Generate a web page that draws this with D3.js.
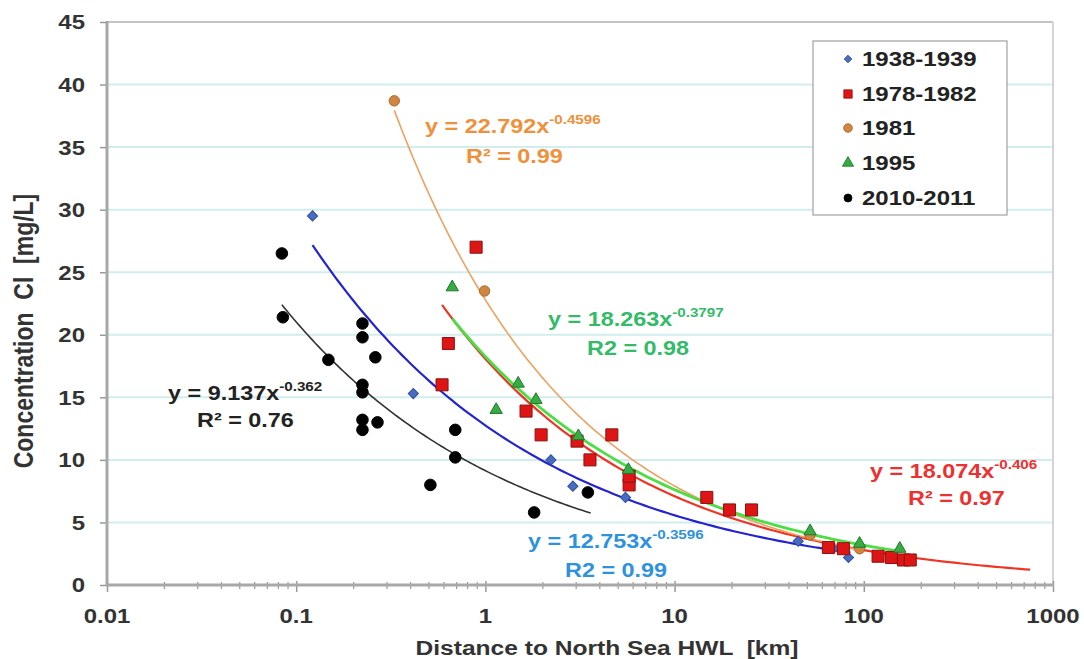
<!DOCTYPE html>
<html><head><meta charset="utf-8">
<script src="https://cdn.jsdelivr.net/npm/d3@7"></script>
<style>
html,body{margin:0;padding:0;background:#fff;}
text{font-family:"Liberation Sans",Arial,sans-serif;font-weight:bold;white-space:pre;}
</style></head>
<body>
<svg id="chart" width="1084" height="659"></svg>
<script>
// ---------- data ----------
const seriesNames = ["1938-1939","1978-1982","1981","1995","2010-2011"];
const xTicks = [0.01, 0.1, 1, 10, 100, 1000];
const xTickLabels = ["0.01","0.1","1","10","100","1000"];
const yTicks = [0,5,10,15,20,25,30,35,40,45];

const x1938 = [0.122, 0.416, 2.22, 2.9, 5.5, 45, 69, 83];
const y1938 = [29.5, 15.3, 10.0, 7.9, 7.0, 3.5, 2.9, 2.2];

const x1978 = [0.59, 0.637, 0.893, 1.64, 1.97, 3.05, 3.57, 4.66, 5.75, 5.75, 14.8, 19.5, 25.5, 65, 78, 119, 140, 162, 176];
const y1978 = [16.0, 19.3, 27.0, 13.9, 12.0, 11.5, 10.0, 12.0, 8.0, 8.7, 7.0, 6.0, 6.0, 3.0, 2.9, 2.3, 2.2, 2.0, 2.0];

const x1981 = [0.33, 0.99, 52, 95];
const y1981 = [38.7, 23.5, 4.0, 2.9];

const x1995 = [0.668, 1.14, 1.49, 1.85, 3.1, 5.7, 52, 95, 155];
const y1995 = [23.8, 14.0, 16.1, 14.8, 11.9, 9.2, 4.3, 3.3, 2.9];

const x2010 = [0.084, 0.085, 0.148, 0.224, 0.224, 0.262, 0.224, 0.224, 0.224, 0.224, 0.269, 0.512, 0.693, 0.693, 1.81, 3.48];
const y2010 = [26.5, 21.4, 18.0, 20.9, 19.8, 18.2, 16.0, 15.4, 13.2, 12.4, 13.0, 8.0, 12.4, 10.2, 5.8, 7.4];

// power-law trendlines y = a * x^b (as printed on the chart)
const fitA = [12.753, 18.074, 22.792, 18.263, 9.137];
const fitB = [-0.3596, -0.406, -0.4596, -0.3797, -0.362];
const fitFrom = [0.122, 0.59, 0.33, 0.668, 0.084];
const fitTo = [85, 757, 100, 160, 3.6];

const eqMain = ["y = 12.753x", "y = 18.074x", "y = 22.792x", "y = 18.263x", "y = 9.137x"];
const eqExp  = ["-0.3596", "-0.406", "-0.4596", "-0.3797", "-0.362"];
const eqR2   = ["R2 = 0.99", "R\u00B2 = 0.97", "R\u00B2 = 0.99", "R2 = 0.98", "R\u00B2 = 0.76"];

// ---------- layout / style ----------
const SX = 1.17; // horizontal stretch of the reference text
const L = 107, R = 1053, T = 22, B = 585;
const markerColor = ["#4a6cc0","#dd1515","#cf8640","#3aaa44","#000000"];
const markerStroke = ["#2f4f9f","#8e1010","#b06a2a","#1d7a2a","#000000"];
const lineColor = ["#2323d0","#ee3526","#f0a060","#4ddd44","#333333"];
const lineWidth = [2.2, 2.2, 1.6, 2.8, 1.6];
const textColor = ["#2e93dc","#ee3030","#f0903a","#33bb6a","#222222"];
const eqPos = [[528,548,565,577],[870,478,908,505],[425,133,466,163],[548,326,587,355],[168,400,197,427]];

const svg = d3.select("#chart");
const x = d3.scaleLog().domain([0.01, 1000]).range([L, R]);
const y = d3.scaleLinear().domain([0, 45]).range([B, T]);

function stext(g, px, py, str, opts) {
  opts = opts || {};
  const t = g.append("text")
    .attr("transform", `translate(${px},${py}) scale(${SX},1)` + (opts.rot ? ` rotate(${opts.rot})` : ""))
    .attr("text-anchor", opts.anchor || "start")
    .attr("font-size", opts.size || 20)
    .attr("fill", opts.fill || "#333");
  if (opts.dy) t.attr("dy", opts.dy);
  t.text(str);
  return t;
}

// gridlines
svg.append("g").selectAll("line").data(yTicks.filter(d => d > 0 && d < 45)).join("line")
  .attr("x1", L).attr("x2", R).attr("y1", d => y(d)).attr("y2", d => y(d))
  .attr("stroke", "#d2eded").attr("stroke-width", 2);
// plot frame top/right
svg.append("line").attr("x1", L).attr("x2", R).attr("y1", y(45)).attr("y2", y(45)).attr("stroke", "#c4c4c4").attr("stroke-width", 2);
svg.append("line").attr("x1", R).attr("x2", R).attr("y1", T).attr("y2", B).attr("stroke", "#d4d4d4").attr("stroke-width", 2);

// axes
const yAxis = d3.axisLeft(y).tickValues(yTicks).tickSize(7).tickFormat("");
const gy = svg.append("g").attr("transform", `translate(${L},0)`).call(yAxis);
gy.select(".domain").remove();
gy.selectAll(".tick line").attr("stroke", "#999").attr("stroke-width", 1.5);

const minor = [];
for (let e = -2; e < 3; e++) for (let k = 2; k <= 9; k++) minor.push(k * Math.pow(10, e));
const gxm = svg.append("g").attr("transform", `translate(0,${B})`)
  .call(d3.axisBottom(x).tickValues(minor).tickSize(4).tickFormat(""));
gxm.select(".domain").remove();
gxm.selectAll(".tick line").attr("stroke", "#999").attr("stroke-width", 1.2).attr("y1", -3);
const gx = svg.append("g").attr("transform", `translate(0,${B})`)
  .call(d3.axisBottom(x).tickValues(xTicks).tickSize(7).tickFormat(""));
gx.select(".domain").remove();
gx.selectAll(".tick line").attr("stroke", "#999").attr("stroke-width", 1.5).attr("y1", -4);

svg.append("line").attr("x1", L).attr("x2", L).attr("y1", T - 1).attr("y2", B + 1).attr("stroke", "#a8a8a8").attr("stroke-width", 3);
svg.append("line").attr("x1", L - 1).attr("x2", R + 1).attr("y1", B).attr("y2", B).attr("stroke", "#a8a8a8").attr("stroke-width", 3);

// tick labels
const gl = svg.append("g");
yTicks.forEach(v => stext(gl, 85, y(v), String(v), {anchor: "end", dy: "0.36em", size: 20.5}));
xTicks.forEach((v, i) => stext(gl, x(v), 623, xTickLabels[i], {anchor: "middle", size: 20.5}));

// axis titles
stext(gl, 607, 655, "Distance to North Sea HWL  [km]", {anchor: "middle", size: 21, fill: "#333"});
stext(gl, 33, 331, "Concentration  Cl  [mg/L]", {anchor: "middle", size: 23, fill: "#333", rot: -90});

// trendlines
const line = d3.line().x(d => x(d[0])).y(d => y(d[1]));
const gt = svg.append("g");
fitA.forEach((a, i) => {
  const lo = Math.log10(fitFrom[i]), hi = Math.log10(fitTo[i]);
  const pts = d3.range(0, 121).map(k => {
    const xv = Math.pow(10, lo + (hi - lo) * k / 120);
    return [xv, a * Math.pow(xv, fitB[i])];
  });
  gt.append("path").attr("d", line(pts)).attr("fill", "none")
    .attr("stroke", lineColor[i]).attr("stroke-width", lineWidth[i]);
});

// markers
const xs = [x1938, x1978, x1981, x1995, x2010];
const ys = [y1938, y1978, y1981, y1995, y2010];
const shapes = [d3.symbolSquare, d3.symbolSquare, d3.symbolCircle, d3.symbolTriangle, d3.symbolCircle];
const rots = [45, 0, 0, 0, 0];
const sizes = [52, 145, 85, 66, 105];
const gm = svg.append("g");
xs.forEach((xa, i) => {
  const pts = xa.map((xv, k) => [xv, ys[i][k]]);
  gm.append("g").selectAll("path").data(pts).join("path")
    .attr("transform", d => `translate(${x(d[0])},${y(d[1])}) rotate(${rots[i]})`)
    .attr("d", d3.symbol().type(shapes[i]).size(sizes[i]))
    .attr("fill", markerColor[i]).attr("stroke", markerStroke[i]).attr("stroke-width", 1);
});

// equations
const ge = svg.append("g");
eqMain.forEach((s, i) => {
  const p = eqPos[i];
  const t = ge.append("text")
    .attr("transform", `translate(${p[0]},${p[1]}) scale(${SX},1)`)
    .attr("font-size", 20).attr("fill", textColor[i]);
  t.append("tspan").text(s);
  t.append("tspan").attr("font-size", 13).attr("dy", -9).text(eqExp[i]);
  stext(ge, p[2], p[3], eqR2[i], {size: 20, fill: textColor[i]});
});

// legend
const lg = svg.append("g");
lg.append("rect").attr("x", 813).attr("y", 41).attr("width", 194).attr("height", 174)
  .attr("fill", "#fff").attr("stroke", "#a0a0a0").attr("stroke-width", 1.2);
const legY = [59, 94, 128, 163, 198];
const legSizes = [30, 70, 60, 55, 50];
seriesNames.forEach((n, i) => {
  lg.append("path").attr("transform", `translate(848,${legY[i]}) rotate(${rots[i]})`)
    .attr("d", d3.symbol().type(shapes[i]).size(legSizes[i]))
    .attr("fill", markerColor[i]).attr("stroke", markerStroke[i]).attr("stroke-width", 0.8);
  stext(lg, 862, legY[i], n, {size: 20.5, dy: "0.36em", fill: "#222"});
});
</script>
</body></html>
